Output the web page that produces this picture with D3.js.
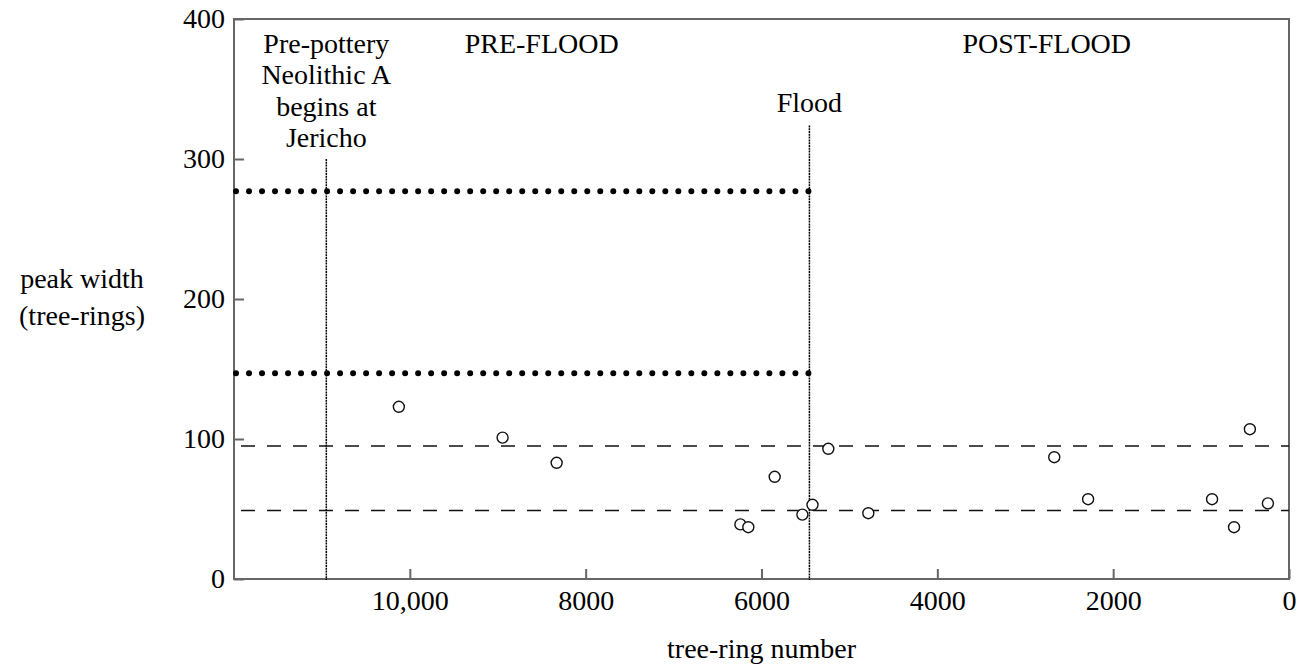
<!DOCTYPE html>
<html>
<head>
<meta charset="utf-8">
<script src="https://cdn.jsdelivr.net/npm/d3@7"></script>
<style>
  body { margin: 0; background: #fff; }
</style>
</head>
<body>
<div id="vis"></div>
<script>
// peaks: position (tree-ring number, counted back) and width (tree-rings)
var ringNumber = [10125, 8945, 8330, 6240, 6150, 5850, 5535, 5420, 5240, 4785, 2670, 2285, 875, 625, 445, 240];
var peakWidth  = [123, 101, 83, 39, 37, 73, 46, 53, 93, 47, 87, 57, 57, 37, 107, 54];

// reference levels
var dottedLevels = [277, 147];   // pre-flood band, ends at the flood
var dashedLevels = [95, 49];     // across the whole record

// events marked by vertical lines
var eventRing  = [10950, 5455];
var eventTop   = [300, 324];
var eventLabel = [["Pre-pottery", "Neolithic A", "begins at", "Jericho"], ["Flood"]];

var xTicks = [10000, 8000, 6000, 4000, 2000, 0];
var yTicks = [0, 100, 200, 300, 400];
var periodLabel = ["PRE-FLOOD", "POST-FLOOD"];
var periodCenter = [8500, 2755];

var width = 1299, height = 666;
var font = "'Liberation Serif', 'DejaVu Serif', serif";
var fs = 28;

var svg = d3.select("#vis").append("svg")
  .attr("width", width).attr("height", height)
  .attr("font-family", font).attr("font-size", fs);

var x = d3.scaleLinear().domain([12000, 0]).range([234, 1289]);
var y = d3.scaleLinear().domain([0, 400]).range([579, 19]);

function txt(sel) {
  return sel.append("text").attr("font-family", font).attr("font-size", fs).attr("fill", "#000");
}

// axes
var xAxis = d3.axisBottom(x).tickValues(xTicks).tickSizeInner(-10).tickSizeOuter(0).tickPadding(11)
  .tickFormat(function(d) { return d >= 10000 ? d3.format(",")(d) : d; });
var gx = svg.append("g").attr("transform", "translate(0," + y(0) + ")").call(xAxis);
var yAxis = d3.axisLeft(y).tickValues(yTicks).tickSizeInner(-10).tickSizeOuter(0).tickPadding(9);
var gy = svg.append("g").attr("transform", "translate(" + x(12000) + ",0)").call(yAxis);

[gx, gy].forEach(function(g) {
  g.attr("font-family", font).attr("font-size", fs);
  g.select(".domain").remove();
  g.selectAll(".tick line").attr("stroke", "#666").attr("stroke-width", 2);
  g.selectAll(".tick text").attr("fill", "#000");
});

// frame
svg.append("rect")
  .attr("x", x(12000)).attr("y", y(400))
  .attr("width", x(0) - x(12000)).attr("height", y(0) - y(400))
  .attr("fill", "none").attr("stroke", "#666").attr("stroke-width", 2);

// dotted levels, spacing fitted so dots sit on both ends
var dotStart = x(12000) + 2, dotEnd = x(eventRing[1]) - 1;
var nDots = Math.round((dotEnd - dotStart) / 13.15);
var dotGap = (dotEnd - dotStart) / nDots;
svg.selectAll(".dotted").data(dottedLevels).enter().append("line")
  .attr("class", "dotted")
  .attr("x1", dotStart).attr("x2", dotEnd + 0.5)
  .attr("y1", function(d) { return y(d); }).attr("y2", function(d) { return y(d); })
  .attr("stroke", "#000").attr("stroke-width", 6)
  .attr("stroke-linecap", "round").attr("stroke-dasharray", "0," + dotGap);

// dashed levels
svg.selectAll(".dashed").data(dashedLevels).enter().append("line")
  .attr("class", "dashed")
  .attr("x1", x(12000)).attr("x2", x(0))
  .attr("y1", function(d) { return y(d); }).attr("y2", function(d) { return y(d); })
  .attr("stroke", "#111").attr("stroke-width", 1.5)
  .attr("stroke-dasharray", "14,12").attr("stroke-dashoffset", 19);

// event lines
svg.selectAll(".event").data(eventRing).enter().append("line")
  .attr("class", "event")
  .attr("x1", function(d) { return x(d); }).attr("x2", function(d) { return x(d); })
  .attr("y1", function(d, i) { return y(eventTop[i]); }).attr("y2", y(0) + 1)
  .attr("stroke", "#000").attr("stroke-width", 1.5)
  .attr("stroke-dasharray", "2,0.8");

// event labels
var jl = txt(svg).attr("text-anchor", "middle");
eventLabel[0].forEach(function(t, i) {
  jl.append("tspan").attr("x", x(eventRing[0])).attr("y", 53 + i * 31.3).text(t);
});
txt(svg).attr("text-anchor", "middle")
  .attr("x", x(eventRing[1])).attr("y", 112).text(eventLabel[1][0]);

// period labels
periodLabel.forEach(function(d, i) {
  txt(svg).attr("text-anchor", "middle")
    .attr("x", x(periodCenter[i])).attr("y", 53).text(d);
});

// points
svg.selectAll(".peak").data(ringNumber).enter().append("circle")
  .attr("class", "peak")
  .attr("cx", function(d) { return x(d); })
  .attr("cy", function(d, i) { return y(peakWidth[i]); })
  .attr("r", 5.5)
  .attr("fill", "#fff").attr("stroke", "#111").attr("stroke-width", 1.4);

// axis titles
txt(svg).attr("text-anchor", "middle")
  .attr("x", (x(12000) + x(0)) / 2).attr("y", 658).text("tree-ring number");
var yt = txt(svg).attr("text-anchor", "middle");
yt.append("tspan").attr("x", 82).attr("y", 288).text("peak width");
yt.append("tspan").attr("x", 82).attr("y", 325).text("(tree-rings)");
</script>
</body>
</html>
